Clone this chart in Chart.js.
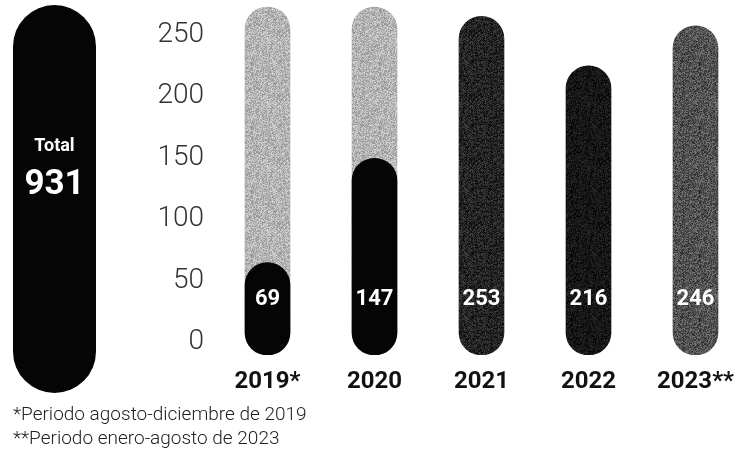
<!DOCTYPE html>
<html>
<head>
<meta charset="utf-8">
<script src="https://cdn.jsdelivr.net/npm/chart.js@4/dist/chart.umd.min.js"></script>
<style>
  html, body { margin: 0; padding: 0; background: #fff; width: 740px; height: 453px; overflow: hidden; }
  #wrap { position: absolute; left: 0; top: 0; width: 760px; height: 453px; }
  #total { position: absolute; left: 13px; top: 5px; width: 83px; height: 388px; border-radius: 42px;
           background: #050505; color: #fff; font-family: Roboto, sans-serif; font-weight: 700; text-align: center; }
  #total .lbl { position: absolute; left: 0; right: 0; top: 128px; font-size: 18px; line-height: 24px; }
  #total .num { position: absolute; left: 0; right: 0; top: 158px; font-size: 35px; line-height: 40px; }
  #notes { position: absolute; left: 13px; top: 402px; font-family: Roboto, sans-serif; font-weight: 300;
           font-size: 19px; line-height: 24px; color: #222; white-space: nowrap; }
</style>
</head>
<body>
<div id="wrap"><canvas id="chart" width="760" height="453"></canvas></div>
<div id="total"><div class="lbl">Total</div><div class="num" id="totalNum"></div></div>
<div id="notes">*Periodo agosto-diciembre de 2019<br>**Periodo enero-agosto de 2023</div>
<script>
const years = ["2019*", "2020", "2021", "2022", "2023**"];
const values = [69, 147, 253, 216, 246];
const trackValues = [260, 260, null, null, null];
const tickValues = [0, 50, 100, 150, 200, 250];

document.getElementById("totalNum").textContent = values.reduce((a, b) => a + b, 0);

// grainy fill, like the printed original
function grain(base, spread) {
  const c = document.createElement("canvas");
  c.width = c.height = 64;
  const g = c.getContext("2d");
  const img = g.createImageData(64, 64);
  let seed = 12345;
  for (let i = 0; i < img.data.length; i += 4) {
    seed = (seed * 1103515245 + 12345) & 0x7fffffff;
    const v = Math.max(0, Math.min(255, base + ((seed / 0x7fffffff) - 0.5) * spread));
    img.data[i] = img.data[i + 1] = img.data[i + 2] = v;
    img.data[i + 3] = 255;
  }
  g.putImageData(img, 0, 0);
  return g.createPattern(c, "repeat");
}

const valueColors = ["#050505", "#050505", grain(36, 60), grain(22, 40), grain(82, 80)];
const trackColor = grain(180, 70);

const valueLabels = {
  id: "valueLabels",
  afterDatasetsDraw(chart) {
    const ctx = chart.ctx;
    const meta = chart.getDatasetMeta(1);
    ctx.save();
    ctx.font = "bold 22px Roboto";
    ctx.fillStyle = "#fff";
    ctx.textAlign = "center";
    ctx.textBaseline = "middle";
    meta.data.forEach((bar, i) => {
      ctx.fillText(String(values[i]), bar.x, chart.chartArea.bottom - 56);
    });
    ctx.restore();
  }
};

new Chart(document.getElementById("chart"), {
  type: "bar",
  data: {
    labels: years,
    datasets: [
      {
        data: trackValues,
        backgroundColor: trackColor,
        yAxisID: "yb",
        order: 1,
        grouped: false,
        barThickness: 45,
        borderRadius: 23,
        borderSkipped: false
      },
      {
        data: values,
        backgroundColor: valueColors,
        yAxisID: "yb",
        order: 0,
        grouped: false,
        barThickness: 45,
        borderRadius: 23,
        borderSkipped: false
      }
    ]
  },
  options: {
    responsive: false,
    animation: false,
    layout: { padding: { left: 152, top: 3, right: 11, bottom: 50 } },
    plugins: { legend: { display: false }, tooltip: { enabled: false } },
    scales: {
      x: {
        grid: { display: false },
        border: { display: false },
        ticks: { color: "#111", padding: 5, font: { family: "Roboto", size: 24, weight: "bold" } },
        afterFit: s => { s.height = 48; s.paddingLeft = 0; s.paddingRight = 0; }
      },
      y: {
        position: "left",
        min: -10.6,
        max: 276.1,
        grid: { display: false },
        border: { display: false },
        afterBuildTicks: s => { s.ticks = tickValues.map(v => ({ value: v })); },
        ticks: { color: "#333", padding: 2, font: { family: "Roboto", size: 28, weight: 300 } },
        afterFit: s => { s.width = 62; s.paddingTop = 0; s.paddingBottom = 0; }
      },
      yb: {
        display: false,
        min: 0,
        max: 263
      }
    }
  },
  plugins: [valueLabels]
});
</script>
</body>
</html>
